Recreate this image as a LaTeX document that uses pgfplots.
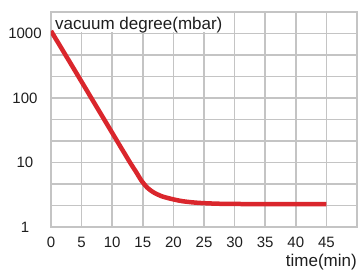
\documentclass[border=0pt]{standalone}
\usepackage{fontspec}
\setmainfont{Liberation Sans}
\usepackage{pgfplots}
\pgfplotsset{compat=1.18}
\definecolor{gridgray}{RGB}{196,196,196}
\definecolor{curvered}{RGB}{218,38,44}
\definecolor{txt}{RGB}{30,30,30}
\begin{document}
\begin{tikzpicture}
\path[use as bounding box] (-51pt,-45pt) rectangle (307pt,227pt);
\begin{axis}[
  at={(0pt,0pt)}, anchor=south west,
  scale only axis, width=306pt, height=215pt,
  clip mode=individual,
  xmin=0, xmax=50,
  ymode=log, log basis y=10,
  ymin=1, ymax=2154.43469,
  xtick={0,5,...,45},
  ytick={1,10,100,1000}, yticklabels={1,10,100,1000},
  minor ytick={2.15443,4.64159,21.5443,46.4159,215.443,464.159},
  grid=both,
  major grid style={gridgray, line width=1.6pt},
  minor grid style={gridgray, line width=1.6pt},
  axis line style={gridgray, line width=1.6pt},
  major tick length=0pt, minor tick length=0pt,
  /pgf/number format/assume math mode=true,
  ticklabel style={font=\fontsize{15}{18}\selectfont, text=txt},
  yticklabel style={anchor=center, xshift=-26pt},
  xticklabel style={anchor=center, yshift=-15pt},
]
\fill[white] ([xshift=1.2pt,yshift=1.2pt]axis cs:0,1000) rectangle ([xshift=-1.2pt,yshift=-1.2pt]axis cs:30,2154.43469);
\node[anchor=base west, inner sep=0pt, font=\fontsize{17}{20}\selectfont, text=txt] at ([xshift=4pt,yshift=197pt]rel axis cs:0,0) {vacuum degree(mbar)};
\node[anchor=base east, inner sep=0pt, font=\fontsize{17}{20}\selectfont, text=txt] at ([yshift=-40pt]rel axis cs:1,0) {time(min)};
\addplot[curvered, line width=4.5pt, smooth, tension=0.5] coordinates {
(0,1096) (4,257) (8,59.7) (10,28.8) (12,13.9) (13,9.7) (14,6.9) (14.8,5.2)
(15.7,4.1) (16.7,3.47) (18,3.02) (19.5,2.75) (21.5,2.51) (24,2.37)
(27,2.30) (30,2.275) (35,2.27) (40,2.265) (45,2.265)
};
\end{axis}
\end{tikzpicture}
\end{document}
